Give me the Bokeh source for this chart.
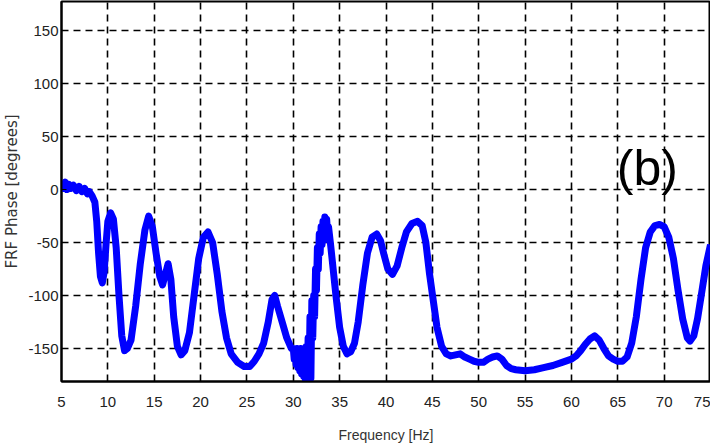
from bokeh.plotting import figure
from bokeh.models import Range1d, Label, FixedTicker
from bokeh.embed import file_html
from bokeh.resources import INLINE

# ---- data ----
freq = [5.0, 5.2, 5.4, 5.6, 5.8, 6.0, 6.3, 6.6, 6.9, 7.2, 7.5, 7.8, 8.0, 8.3, 8.6, 8.8, 9.0, 9.2, 9.4,
        9.6, 9.8, 10.0, 10.3, 10.6, 10.9, 11.2, 11.5, 11.8, 12.1, 12.5, 13.0, 13.5, 14.0, 14.4, 14.8,
        15.2, 15.6, 15.9, 16.2, 16.5, 16.8, 17.1, 17.5, 17.9, 18.3, 18.8, 19.3, 19.8, 20.3, 20.8, 21.3,
        21.8, 22.3, 22.8, 23.3, 24.0, 24.7, 25.3, 25.8, 26.3, 26.8, 27.3, 27.7, 28.0, 28.3, 28.8, 29.3,
        29.8, 30.0, 30.1, 30.2, 30.3, 30.4, 30.5, 30.6, 30.7, 30.8, 30.9, 31.0, 31.1, 31.2, 31.3, 31.4,
        31.5, 31.6, 31.7, 31.8, 31.9, 32.0, 32.1, 32.2, 32.3, 32.4, 32.5, 32.6, 32.7, 32.8, 32.9, 33.0,
        33.1, 33.2, 33.3, 33.4, 33.5, 33.6, 33.7, 33.8, 34.0, 34.3, 34.6, 35.0, 35.4, 35.8, 36.2, 36.6,
        37.0, 37.5, 38.0, 38.5, 39.0, 39.4, 39.8, 40.2, 40.7, 41.2, 41.7, 42.2, 42.8, 43.4, 43.9, 44.3,
        44.7, 45.1, 45.5, 46.0, 46.5, 47.0, 47.5, 48.0, 48.5, 49.0, 49.5, 50.0, 50.5, 51.0, 51.5, 52.0,
        52.5, 53.0, 53.5, 54.0, 55.0, 56.0, 57.0, 58.0, 59.0, 60.0, 60.5, 61.0, 61.5, 62.0, 62.5, 63.0,
        63.5, 64.0, 64.5, 65.0, 65.5, 66.0, 66.5, 67.0, 67.5, 68.0, 68.5, 69.0, 69.5, 70.0, 70.5, 71.0,
        71.5, 72.0, 72.5, 72.8, 73.2, 73.6, 74.0, 74.5, 75.0]
phase = [6, 1, 7, 0, 5, 1, 4, -1, 3, -2, 1, -4, -2, -6, -12, -30, -60, -82, -88,
         -78, -52, -30, -22, -28, -55, -100, -138, -152, -150, -142, -110, -70, -38, -25, -35,
         -60, -82, -90, -80, -70, -85, -120, -148, -156, -152, -135, -100, -65, -45, -40, -50,
         -80, -115, -140, -155, -163, -167, -167, -162, -155, -145, -125, -104, -100, -110, -125, -140,
         -150, -150, -160, -152, -165, -150, -168, -152, -171, -150, -174, -152, -176, -150, -179, -148,
         -181, -140, -180, -120, -178, -105, -140, -100, -120, -75, -95, -55, -75, -42, -60, -35,
         -52, -30, -48, -26, -45, -28, -42, -35, -50, -75, -100, -130, -148, -155, -153, -145,
         -125, -90, -60, -45, -42, -48, -62, -75, -80, -72, -55, -40, -32, -30, -34, -50,
         -80, -105, -130, -148, -155, -157, -156, -155, -158, -160, -162, -163, -163, -160, -158, -157,
         -160, -166, -169, -170, -171, -170, -168, -166, -163, -160, -157, -152, -146, -141, -138, -142,
         -150, -157, -160, -162, -162, -158, -145, -120, -85, -55, -40, -34, -33, -35, -45, -65,
         -95, -122, -140, -143, -138, -122, -100, -72, -52]

x_ticks = [5, 10, 15, 20, 25, 30, 35, 40, 45, 50, 55, 60, 65, 70, 75]
x_tick_labels = ["5", "10", "15", "20", "25", "30", "35", "40", "45", "50", "55", "60", "65", "70", "75"]
y_ticks = [-150, -100, -50, 0, 50, 100, 150]
y_tick_labels = ["-150", "-100", "-50", "0", "50", "100", "150"]

p = figure(frame_width=649, frame_height=380, output_backend="svg", toolbar_location=None,
           x_range=Range1d(5, 75), y_range=Range1d(-181.1, 177.4),
           min_border_left=55, min_border_right=0, min_border_top=1, min_border_bottom=64)

p.line(freq, phase, line_width=7, line_color="#0000ff", line_join="round")

tick_font = "Liberation Sans"
for ax, ticks, labels in ((p.xaxis[0], x_ticks, x_tick_labels), (p.yaxis[0], y_ticks, y_tick_labels)):
    ax.ticker = FixedTicker(ticks=ticks)
    ax.major_label_overrides = {t: l for t, l in zip(ticks, labels)}
    ax.major_tick_in = 5
    ax.major_tick_out = 0
    ax.minor_tick_line_color = None
    ax.axis_line_color = "black"
    ax.axis_line_width = 2
    ax.major_tick_line_color = "black"
    ax.major_label_text_font = tick_font
    ax.major_label_text_font_size = "15px"
    ax.major_label_text_color = "#222222"
    ax.axis_label_text_font = tick_font
    ax.axis_label_text_font_style = "normal"
    ax.axis_label_text_color = "#333333"

p.xaxis.axis_label = "Frequency [Hz]"
p.xaxis.axis_label_text_font_size = "14px"
p.xaxis.major_label_standoff = 15
p.xaxis.axis_label_standoff = 17
p.yaxis.axis_label = "FRF Phase [degrees]"
p.yaxis.axis_label_text_font = "DejaVu Sans"
p.yaxis.axis_label_text_font_size = "15px"
p.yaxis.major_label_standoff = 3
p.yaxis.axis_label_standoff = 4

p.outline_line_color = "black"
p.outline_line_width = 2

for g in (p.xgrid[0], p.ygrid[0]):
    g.grid_line_color = "black"
    g.grid_line_dash = "7 5"
    g.grid_line_width = 1.6
    g.grid_line_alpha = 1.0

p.add_layout(Label(x=64.9, y=20, text="(b)", text_font="Liberation Sans",
                   text_font_size="50px", text_color="black", text_baseline="middle"))

open("out.html", "w").write(file_html(p, INLINE))
